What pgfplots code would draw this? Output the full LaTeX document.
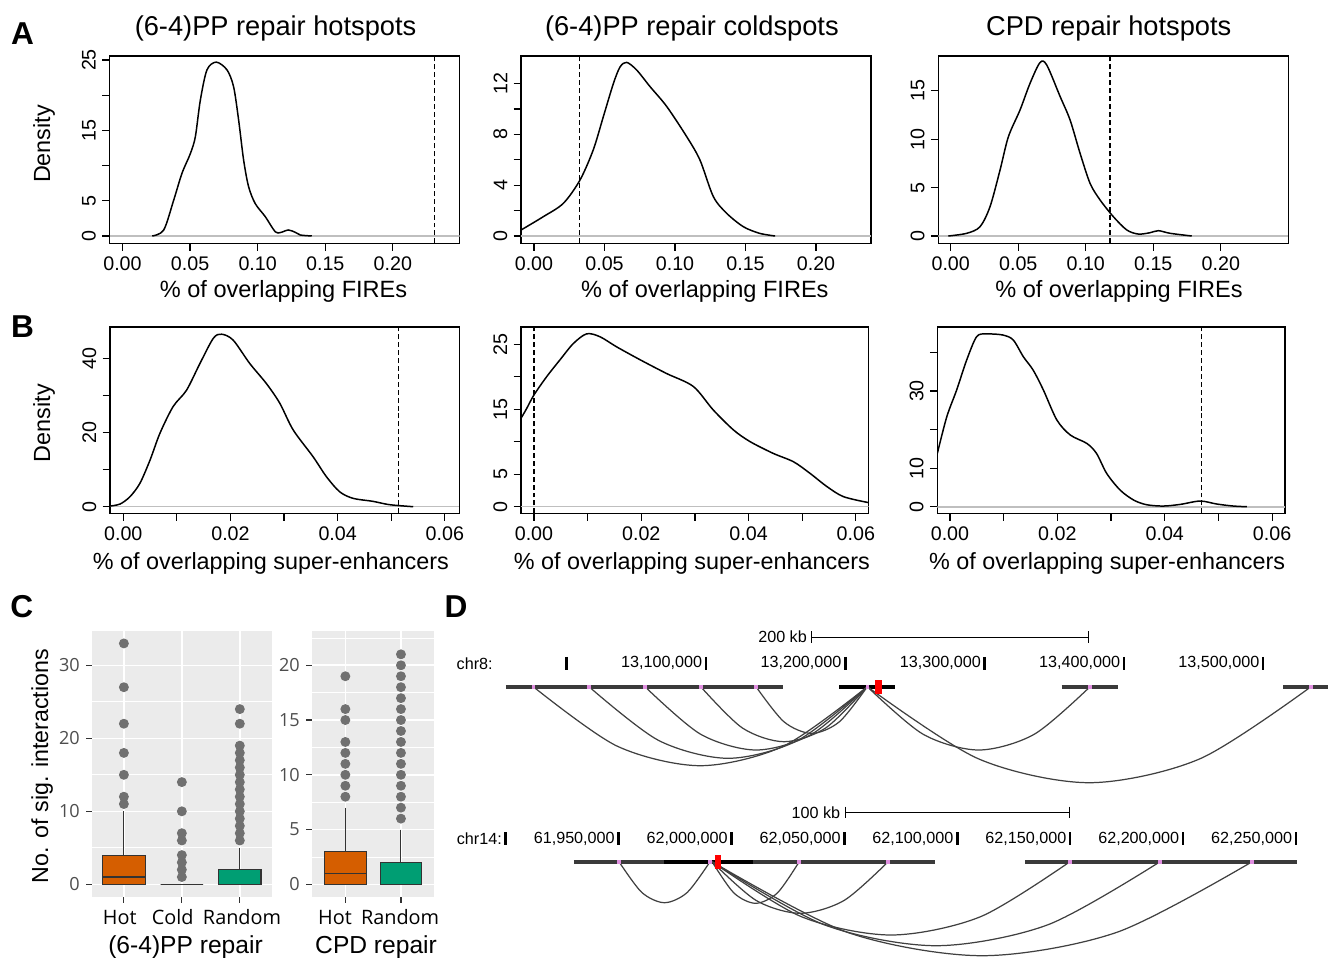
\documentclass[border=0pt]{standalone}
\usepackage{fontspec}
\setmainfont{Liberation Sans}
\newfontfamily\ggfont{Open Sans}
\usepackage{pgfplots}
\pgfplotsset{compat=1.18}
\usepgfplotslibrary{statistics}

\definecolor{hotc}{HTML}{D55E00}
\definecolor{rndc}{HTML}{009E73}
\definecolor{ggbg}{HTML}{EBEBEB}
\definecolor{gg20}{HTML}{333333}
\definecolor{gg30}{HTML}{4D4D4D}
\definecolor{outc}{HTML}{707070}
\definecolor{trk}{HTML}{3A3A3A}
\definecolor{arcc}{HTML}{404040}
\definecolor{anch}{HTML}{E08FE0}

\newcommand\dfont{\fontsize{9.2}{11}\selectfont}
\newcommand\catfont{\ggfont\fontsize{11.3}{13}\selectfont}

\pgfplotsset{
  dens/.style={
    scale only axis, anchor=south west,
    axis line style={line width=0.7pt},
    tick style={line width=0.7pt, black},
    tick align=outside, major tick length=0.15cm,
    xtick pos=left, ytick pos=left,
    scaled ticks=false,
    ticklabel style={font=\fontsize{11.2}{13}\selectfont},
    /pgf/number format/assume math mode=true,
    yticklabel style={rotate=90, anchor=south},
  },
  afire/.style={dens, width=7cm, height=3.746cm,
    xtick={0,0.05,0.1,0.15,0.2}, xticklabels={0.00,0.05,0.10,0.15,0.20}},
  bse/.style={dens, height=3.726cm,
    xtick={0,0.01,0.02,0.03,0.04,0.05,0.06}, xticklabels={0.00,,0.02,,0.04,,0.06}},
  dcurve/.style={black, line width=0.85pt, smooth, no marks},
  zline/.style={black!25, line width=0.9pt, no marks},
  vdash/.style={black, line width=0.8pt, dash pattern=on 2.8pt off 1.7pt, no marks},
  ggax/.style={scale only axis, anchor=south west, height=5.314cm,
    axis background/.style={fill=ggbg}, axis line style={draw=none},
    grid=both, major grid style={white, line width=0.9pt},
    minor grid style={white, line width=0.45pt},
    tick align=outside, major tick length=0.12cm, minor tick length=0pt,
    tick style={gg20, line width=0.7pt},
    xtick pos=left, ytick pos=left,
    /pgf/number format/assume math mode=true,
    yticklabel style={font=\ggfont\fontsize{10.3}{12}\selectfont, text=gg30},
    boxplot/draw direction=y,
  },
  bx/.style={draw=gg20, line width=0.6pt, mark=*, mark size=2.5pt,
    mark options={draw=outc, fill=outc, solid}},
  trkline/.style={trk, line width=2.3pt, no marks},
  arcl/.style={arcc, line width=0.7pt, smooth, no marks},
  rulemk/.style={only marks, mark=|, mark size=3.6pt, mark options={line width=1.4pt, black}},
}

\begin{document}
\begin{tikzpicture}
\useasboundingbox (0,0) rectangle (26.56,-19.14);

% ---------------- A: FIREs
\begin{axis}[afire, at={(2.19cm,-4.866cm)},
  xmin=-0.0096, xmax=0.2493, ymin=-1.04, ymax=25.57,
  ytick={0,5,10,15,20,25}, yticklabels={0,5,,15,,25}]
\addplot[zline] coordinates {(-0.0096,0) (0.2493,0)};
\addplot[dcurve] coordinates {(0.022,0) (0.0305,0.85) (0.0379,5.1) (0.044,8.9)
  (0.0502,11.7) (0.0539,14.1) (0.0576,19.3) (0.0625,23.6) (0.0694,24.7)
  (0.0773,23.6) (0.0822,21.2) (0.0859,16.5) (0.0896,10.8) (0.0933,7.0)
  (0.0982,4.6) (0.1056,2.75) (0.113,0.6) (0.117,0.5) (0.1228,0.85)
  (0.128,0.5) (0.1315,0.14) (0.140,0)};
\addplot[vdash] coordinates {(0.231,-1.04) (0.231,25.57)};
\end{axis}

\begin{axis}[afire, at={(10.42cm,-4.866cm)},
  xmin=-0.0092, xmax=0.239, ymin=-0.575, ymax=14.17,
  ytick={0,2,4,6,8,10,12}, yticklabels={0,,4,,8,,12}]
\addplot[zline] coordinates {(-0.0092,0) (0.239,0)};
\addplot[dcurve] coordinates {(-0.0092,0.47) (0.0066,1.52) (0.0208,2.57)
  (0.0326,4.4) (0.042,6.77) (0.0492,9.4) (0.0563,12.0) (0.061,13.3)
  (0.0657,13.67) (0.0728,13.07) (0.0823,11.76) (0.0941,10.2) (0.1083,7.82)
  (0.1177,5.98) (0.1272,3.1) (0.1367,1.78) (0.1485,0.73) (0.160,0.21) (0.171,0)};
\addplot[vdash] coordinates {(0.0322,-0.575) (0.0322,14.17)};
\end{axis}

\begin{axis}[afire, at={(18.766cm,-4.866cm)},
  xmin=-0.0092, xmax=0.250, ymin=-0.753, ymax=18.58,
  ytick={0,5,10,15}, yticklabels={0,5,10,15}]
\addplot[zline] coordinates {(-0.0092,0) (0.250,0)};
\addplot[dcurve] coordinates {(-0.0018,0) (0.0119,0.28) (0.0217,0.96)
  (0.0291,3.03) (0.0365,6.8) (0.0427,10.25) (0.0513,13.0) (0.0587,15.75)
  (0.0661,17.9) (0.0711,17.65) (0.081,14.4) (0.0884,11.97) (0.0958,8.53)
  (0.1032,5.43) (0.1106,3.72) (0.1204,2.0) (0.1304,0.62) (0.139,0.2)
  (0.1476,0.34) (0.1538,0.55) (0.1624,0.28) (0.1785,0)};
\addplot[vdash] coordinates {(0.118,-0.753) (0.118,18.58)};
\end{axis}

% ---------------- B: super-enhancers
\begin{axis}[bse, at={(2.2cm,-10.266cm)}, width=6.986cm,
  xmin=-0.00248, xmax=0.0627, ymin=-1.78, ymax=48.44,
  ytick={0,10,20,30,40}, yticklabels={0,,20,,40}]
\addplot[zline] coordinates {(-0.00248,0) (0.0627,0)};
\addplot[dcurve] coordinates {(-0.00248,0.18) (-0.0006,0.72) (0.00125,2.7)
  (0.0031,6.3) (0.005,12.6) (0.00684,19.8) (0.0093,27.0) (0.0118,31.4)
  (0.0143,38.6) (0.0168,45.4) (0.01835,46.5) (0.0205,44.9) (0.0236,38.6)
  (0.0267,33.2) (0.0292,27.9) (0.0317,20.7) (0.0354,13.5) (0.0379,8.1)
  (0.0404,4.0) (0.0429,2.25) (0.0466,1.44) (0.0497,0.54) (0.0541,0)};
\addplot[vdash] coordinates {(0.0514,-1.78) (0.0514,48.44)};
\end{axis}

\begin{axis}[bse, at={(10.42cm,-10.266cm)}, width=6.954cm,
  xmin=-0.00242, xmax=0.0624, ymin=-1.02, ymax=27.65,
  ytick={0,5,10,15,20,25}, yticklabels={0,5,,15,,25}]
\addplot[zline] coordinates {(-0.00242,0) (0.0624,0)};
\addplot[dcurve] coordinates {(-0.00242,13.6) (-0.00137,15.1) (0,17.2)
  (0.00236,20.0) (0.00485,22.6) (0.00733,25.1) (0.00982,26.6) (0.0123,26.15)
  (0.0154,24.6) (0.0198,22.6) (0.0247,20.5) (0.0297,18.5) (0.0334,14.9)
  (0.0372,11.8) (0.0403,10.0) (0.0446,8.2) (0.0484,6.9) (0.0515,5.1)
  (0.0546,3.1) (0.0577,1.54) (0.0624,0.62)};
\addplot[vdash] coordinates {(0,-1.02) (0,27.65)};
\end{axis}

\begin{axis}[bse, at={(18.746cm,-10.266cm)}, width=6.954cm,
  xmin=-0.00236, xmax=0.0624, ymin=-1.71, ymax=46.6,
  ytick={0,10,20,30,40}, yticklabels={0,10,,30,}]
\addplot[zline] coordinates {(-0.00236,0) (0.0624,0)};
\addplot[dcurve] coordinates {(-0.00236,13.8) (-0.0006,23.3) (0.00124,30.25)
  (0.0031,38.0) (0.00497,44.1) (0.00683,44.8) (0.00994,44.5) (0.0118,43.2)
  (0.01366,38.9) (0.0155,35.4) (0.0174,30.25) (0.0199,22.5) (0.0224,18.6)
  (0.0255,16.4) (0.0273,13.8) (0.0292,8.6) (0.0317,4.3) (0.0342,1.73)
  (0.0366,0.52) (0.0397,0.17) (0.0429,0.6) (0.0466,1.47) (0.0497,0.69)
  (0.0528,0.17) (0.0553,0)};
\addplot[vdash] coordinates {(0.0468,-1.71) (0.0468,46.6)};
\end{axis}

% ---------------- C: boxplots
\begin{axis}[ggax, at={(1.84cm,-17.934cm)}, width=3.594cm,
  xmin=0.45, xmax=3.55, ymin=-1.7, ymax=34.7,
  xtick={1,2,3}, xticklabels={,,},
  ytick={0,10,20,30}, minor ytick={5,15,25}]
\addplot[bx, fill=hotc, boxplot prepared={draw position=1, lower whisker=0,
  lower quartile=0, median=1, upper quartile=4, upper whisker=10,
  box extend=0.73, whisker extend=0}]
  coordinates {(1,11) (1,12) (1,15) (1,18) (1,22) (1,27) (1,33)};
\addplot[bx, fill=white, boxplot prepared={draw position=2, lower whisker=0,
  lower quartile=0, median=0, upper quartile=0, upper whisker=0,
  box extend=0.73, whisker extend=0}]
  coordinates {(2,1) (2,2) (2,3) (2,4) (2,6) (2,7) (2,10) (2,14)};
\addplot[bx, fill=rndc, boxplot prepared={draw position=3, lower whisker=0,
  lower quartile=0, median=0, upper quartile=2, upper whisker=5,
  box extend=0.73, whisker extend=0}]
  coordinates {(3,6) (3,7) (3,8) (3,9) (3,10) (3,11) (3,12) (3,13) (3,14)
  (3,15) (3,16) (3,17) (3,18) (3,19) (3,22) (3,24)};
\end{axis}

\begin{axis}[ggax, at={(6.24cm,-17.934cm)}, width=2.446cm,
  xmin=0.4, xmax=2.6, ymin=-1.13, ymax=23.13,
  xtick={1,2}, xticklabels={,},
  ytick={0,5,10,15,20}, minor ytick={2.5,7.5,12.5,17.5,22.5}]
\addplot[bx, fill=hotc, boxplot prepared={draw position=1, lower whisker=0,
  lower quartile=0, median=1, upper quartile=3, upper whisker=7,
  box extend=0.75, whisker extend=0}]
  coordinates {(1,8) (1,9) (1,10) (1,11) (1,12) (1,13) (1,15) (1,16) (1,19)};
\addplot[bx, fill=rndc, boxplot prepared={draw position=2, lower whisker=0,
  lower quartile=0, median=0, upper quartile=2, upper whisker=5,
  box extend=0.75, whisker extend=0}]
  coordinates {(2,6) (2,7) (2,8) (2,9) (2,10) (2,11) (2,12) (2,13) (2,14)
  (2,15) (2,16) (2,17) (2,18) (2,19) (2,20) (2,21)};
\end{axis}

% ---------------- D: chr8 interactions (x in kb from 13,000,000)
\begin{axis}[scale only axis, anchor=south west, at={(9.12cm,-15.8cm)},
  width=17.44cm, height=3.4cm, xmin=-79.47, xmax=546.5, ymin=-103.3, ymax=66.7,
  hide axis, clip=false]
\addplot[black, line width=0.6pt, no marks] coordinates {(175.9,49) (374.4,49)};
\addplot[only marks, mark=|, mark size=3.3pt, mark options={line width=0.6pt, black}]
  coordinates {(175.9,49.7) (374.4,49.7)};
\node[anchor=east, inner sep=0pt, xshift=-2.6pt, font=\dfont] at (axis cs:175.9,49.5) {200 kb};
\node[anchor=west, inner sep=0pt, font=\dfont] at (axis cs:-79.2,23) {chr8:};
\addplot[rulemk] coordinates {(0,23.4) (100,23.4) (200,23.4) (300,23.4) (400,23.4) (500,23.4)};
\node[anchor=east, inner sep=0pt, xshift=-2pt, font=\dfont] at (axis cs:100,23.4) {13,100,000};
\node[anchor=east, inner sep=0pt, xshift=-2pt, font=\dfont] at (axis cs:200,23.4) {13,200,000};
\node[anchor=east, inner sep=0pt, xshift=-2pt, font=\dfont] at (axis cs:300,23.4) {13,300,000};
\node[anchor=east, inner sep=0pt, xshift=-2pt, font=\dfont] at (axis cs:400,23.4) {13,400,000};
\node[anchor=east, inner sep=0pt, xshift=-2pt, font=\dfont] at (axis cs:500,23.4) {13,500,000};
\addplot[trkline] coordinates {(-43.6,0) (155.5,0)};
\addplot[trkline] coordinates {(355.3,0) (395.5,0)};
\addplot[trkline] coordinates {(514.4,0) (546.5,0)};
\addplot[black, line width=2.3pt, no marks] coordinates {(195.7,0) (235.7,0)};
\addplot[arcl] coordinates {(-24.0,0) (35.95,-59.25) (95.9,-79) (155.85,-59.25) (215.8,0)};
\addplot[arcl] coordinates {(16.0,0) (65.95,-53.7) (115.9,-71.6) (165.85,-53.7) (215.8,0)};
\addplot[arcl] coordinates {(56.2,0) (96.1,-47.5) (136.0,-63.3) (175.9,-47.5) (215.8,0)};
\addplot[arcl] coordinates {(96.2,0) (126.1,-41.25) (156.0,-55) (185.9,-41.25) (215.8,0)};
\addplot[arcl] coordinates {(135.9,0) (155.9,-35.0) (175.85,-46.7) (195.8,-35.0) (215.8,0)};
\addplot[arcl] coordinates {(215.8,0) (255.8,-47.5) (295.75,-63.3) (335.7,-47.5) (375.7,0)};
\addplot[arcl] coordinates {(215.8,0) (295.4,-72) (375.05,-96) (454.7,-72) (534.3,0)};
\addplot[only marks, mark=square*, mark size=0.8pt, anch]
  coordinates {(-24.0,0) (16.0,0) (56.2,0) (96.2,0) (135.9,0) (215.8,0) (375.7,0) (534.3,0)};
\addplot[red, line width=3.8pt, no marks] coordinates {(223.7,6.7) (223.7,-7.3)};
\end{axis}

% ---------------- D: chr14 interactions (x in kb from 61,900,000)
\begin{axis}[scale only axis, anchor=south west, at={(9.12cm,-19.14cm)},
  width=17.44cm, height=3.24cm, xmin=-22.0, xmax=364.2, ymin=-95.3, ymax=66.7,
  hide axis, clip=false]
\addplot[black, line width=0.6pt, no marks] coordinates {(150.3,49.4) (249.9,49.4)};
\addplot[only marks, mark=|, mark size=3.3pt, mark options={line width=0.6pt, black}]
  coordinates {(150.3,49.4) (249.9,49.4)};
\node[anchor=east, inner sep=0pt, xshift=-2.6pt, font=\dfont] at (axis cs:150.3,49.4) {100 kb};
\addplot[rulemk] coordinates {(0,23) (50,23) (100,23) (150,23) (200,23) (250,23) (300,23) (350,23)};
\node[anchor=east, inner sep=0pt, xshift=-2pt, font=\dfont] at (axis cs:0,23) {chr14:};
\node[anchor=east, inner sep=0pt, xshift=-2pt, font=\dfont] at (axis cs:50,23) {61,950,000};
\node[anchor=east, inner sep=0pt, xshift=-2pt, font=\dfont] at (axis cs:100,23) {62,000,000};
\node[anchor=east, inner sep=0pt, xshift=-2pt, font=\dfont] at (axis cs:150,23) {62,050,000};
\node[anchor=east, inner sep=0pt, xshift=-2pt, font=\dfont] at (axis cs:200,23) {62,100,000};
\node[anchor=east, inner sep=0pt, xshift=-2pt, font=\dfont] at (axis cs:250,23) {62,150,000};
\node[anchor=east, inner sep=0pt, xshift=-2pt, font=\dfont] at (axis cs:300,23) {62,200,000};
\node[anchor=east, inner sep=0pt, xshift=-2pt, font=\dfont] at (axis cs:350,23) {62,250,000};
\addplot[trkline] coordinates {(30.2,0) (190.1,0)};
\addplot[black, line width=2.3pt, no marks] coordinates {(70.1,0) (109.7,0)};
\addplot[trkline] coordinates {(230.0,0) (350.3,0)};
\addplot[arcl] coordinates {(50.2,0) (60.3,-30.75) (70.35,-41) (80.4,-30.75) (90.5,0)};
\addplot[arcl] coordinates {(91.4,0) (101.05,-31.2) (110.7,-41.6) (120.35,-31.2) (130.0,0)};
\addplot[arcl] coordinates {(91.4,0) (110.9,-38.7) (130.4,-51.6) (149.9,-38.7) (169.4,0)};
\addplot[arcl] coordinates {(91.4,0) (131.0,-55.0) (170.65,-73.3) (210.3,-55.0) (249.9,0)};
\addplot[arcl] coordinates {(91.4,0) (141.0,-63) (190.6,-84) (240.2,-63) (289.8,0)};
\addplot[arcl] coordinates {(91.4,0) (151.2,-70.5) (211.0,-94) (270.8,-70.5) (330.6,0)};
\addplot[only marks, mark=square*, mark size=0.8pt, anch]
  coordinates {(50.2,0) (90.5,0) (130.0,0) (169.4,0) (249.9,0) (289.8,0) (330.6,0)};
\addplot[red, line width=3.4pt, no marks] coordinates {(94.0,6.7) (94.0,-7.6)};
\end{axis}

% ---------------- free text
\begin{scope}[x=0.02cm, y=-0.02cm]
\node[font=\fontsize{18}{20}\selectfont\bfseries] at (22.5,34) {A};
\node[font=\fontsize{18}{20}\selectfont\bfseries] at (22.5,327) {B};
\node[font=\fontsize{18}{20}\selectfont\bfseries] at (21.7,606.7) {C};
\node[font=\fontsize{18}{20}\selectfont\bfseries] at (456,606.7) {D};
\node[font=\fontsize{15.5}{18}\selectfont] at (275.5,28) {(6-4)PP repair hotspots};
\node[font=\fontsize{15.5}{18}\selectfont] at (691.7,28) {(6-4)PP repair coldspots};
\node[font=\fontsize{15.5}{18}\selectfont] at (1108.5,28) {CPD repair hotspots};
\node[font=\fontsize{13.3}{16}\selectfont, rotate=90] at (44,144) {Density};
\node[font=\fontsize{13.3}{16}\selectfont, rotate=90] at (44,423) {Density};
\node[font=\fontsize{13.4}{16}\selectfont] at (283.5,291) {\% of overlapping FIREs};
\node[font=\fontsize{13.4}{16}\selectfont] at (704.7,291) {\% of overlapping FIREs};
\node[font=\fontsize{13.4}{16}\selectfont] at (1118.8,291) {\% of overlapping FIREs};
\node[font=\fontsize{13.3}{16}\selectfont] at (270.8,563) {\% of overlapping super-enhancers};
\node[font=\fontsize{13.3}{16}\selectfont] at (691.7,563) {\% of overlapping super-enhancers};
\node[font=\fontsize{13.3}{16}\selectfont] at (1107,563) {\% of overlapping super-enhancers};
\node[font=\fontsize{13.2}{16}\selectfont, rotate=90] at (42,766) {No. of sig. interactions};
\node[font=\catfont, anchor=base] at (119.7,924.3) {Hot};
\node[font=\catfont, anchor=base] at (172.7,924.3) {Cold};
\node[font=\catfont, anchor=base] at (242,924.3) {Random};
\node[font=\catfont, anchor=base] at (335,924.3) {Hot};
\node[font=\catfont, anchor=base] at (400,924.3) {Random};
\node[font=\fontsize{14}{16}\selectfont, anchor=base] at (185.5,953.5) {(6-4)PP repair};
\node[font=\fontsize{14}{16}\selectfont, anchor=base] at (376,953.5) {CPD repair};
\end{scope}
\end{tikzpicture}
\end{document}
